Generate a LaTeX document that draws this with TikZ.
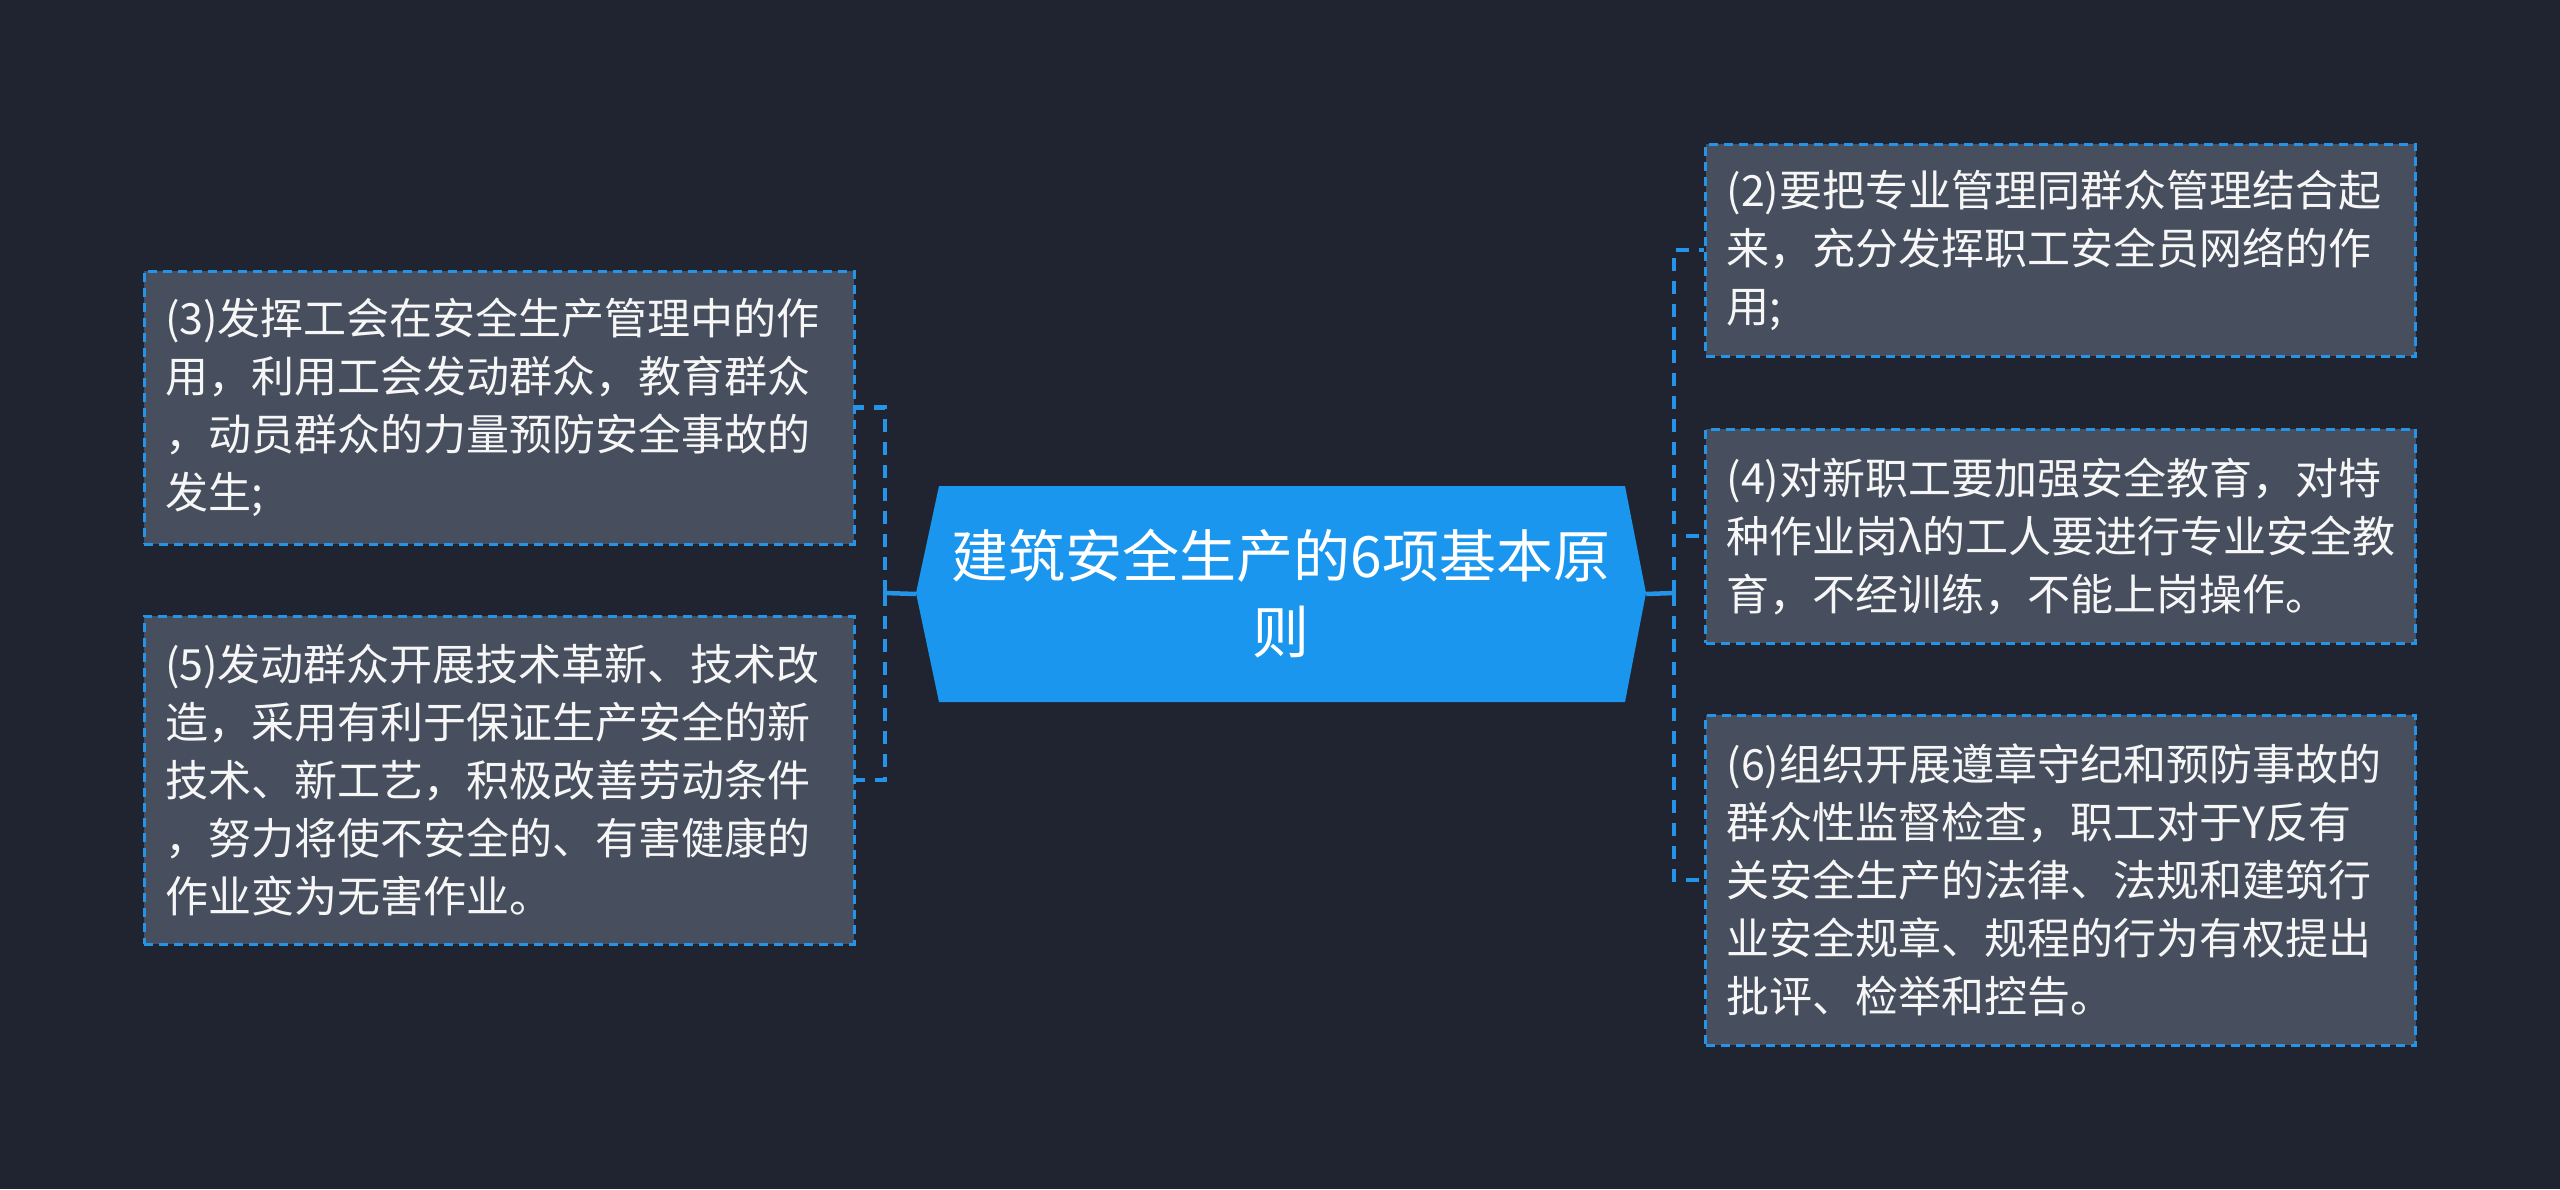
\documentclass[tikz,border=0pt]{standalone}
\usepackage{fontspec}
\setmainfont{Noto Sans CJK SC}
\definecolor{bgc}{HTML}{202430}
\definecolor{boxc}{HTML}{474F5E}
\definecolor{linec}{HTML}{2494E8}
\definecolor{mainc}{HTML}{1A96EE}
\definecolor{txtc}{HTML}{F6F6F6}
\begin{document}
\begin{tikzpicture}[x=1pt,y=-1pt,
  box/.style={rectangle, fill=boxc, draw=linec, line width=3pt, dash pattern=on 9pt off 6pt,
    text=txtc, text width=668pt, inner xsep=21pt, inner ysep=0pt, minimum width=710pt, align=left,
    font=\fontsize{43pt}{58pt}\selectfont},
  conn/.style={draw=linec, line width=4.5pt, dash pattern=on 13pt off 10pt},
  solidc/.style={draw=linec, line width=4.5pt}]
\fill[bgc] (0,0) rectangle (2560,1189);
\useasboundingbox (0,0) rectangle (2560,1189);
% centre
\fill[mainc] (939,486) -- (1625,486) -- (1646,593) -- (1625,702) -- (939,702) -- (916,593) -- cycle;
\node[minimum width=730pt, minimum height=216pt, inner sep=0pt, text=white, align=center,
  font=\fontsize{57pt}{76pt}\selectfont] (c) at (1281,594) {建筑安全生产的6项基本原\\则};
% boxes
\node[box, minimum height=273pt] (b3) at (499,407.5) {(3)发挥工会在安全生产管理中的作\\用，利用工会发动群众，教育群众\\，动员群众的力量预防安全事故的\\发生;};
\node[box, minimum height=328pt] (b5) at (499,780) {(5)发动群众开展技术革新、技术改\\造，采用有利于保证生产安全的新\\技术、新工艺，积极改善劳动条件\\，努力将使不安全的、有害健康的\\作业变为无害作业。};
\node[box, minimum height=212pt] (b2) at (2060.5,250) {(2)要把专业管理同群众管理结合起\\来，充分发挥职工安全员网络的作\\用;};
\node[box, minimum height=214pt] (b4) at (2060.5,536) {(4)对新职工要加强安全教育，对特\\种作业岗λ的工人要进行专业安全教\\育，不经训练，不能上岗操作。};
\node[box, minimum height=330pt] (b6) at (2060.5,880) {(6)组织开展遵章守纪和预防事故的\\群众性监督检查，职工对于Y反有\\关安全生产的法律、法规和建筑行\\业安全规章、规程的行为有权提出\\批评、检举和控告。};
% connectors
\coordinate (lb) at (885,593);
\coordinate (rb) at (1674,593);
\draw[solidc] (c.west) -- (lb);
\draw[solidc] (c.east) -- (rb);
\draw[conn] (lb) |- (b3.east);
\draw[conn] (lb) |- (b5.east);
\draw[conn] (rb) |- (b2.west);
\draw[conn] (rb) |- (b4.west);
\draw[conn] (rb) |- (b6.west);
\end{tikzpicture}
\end{document}
